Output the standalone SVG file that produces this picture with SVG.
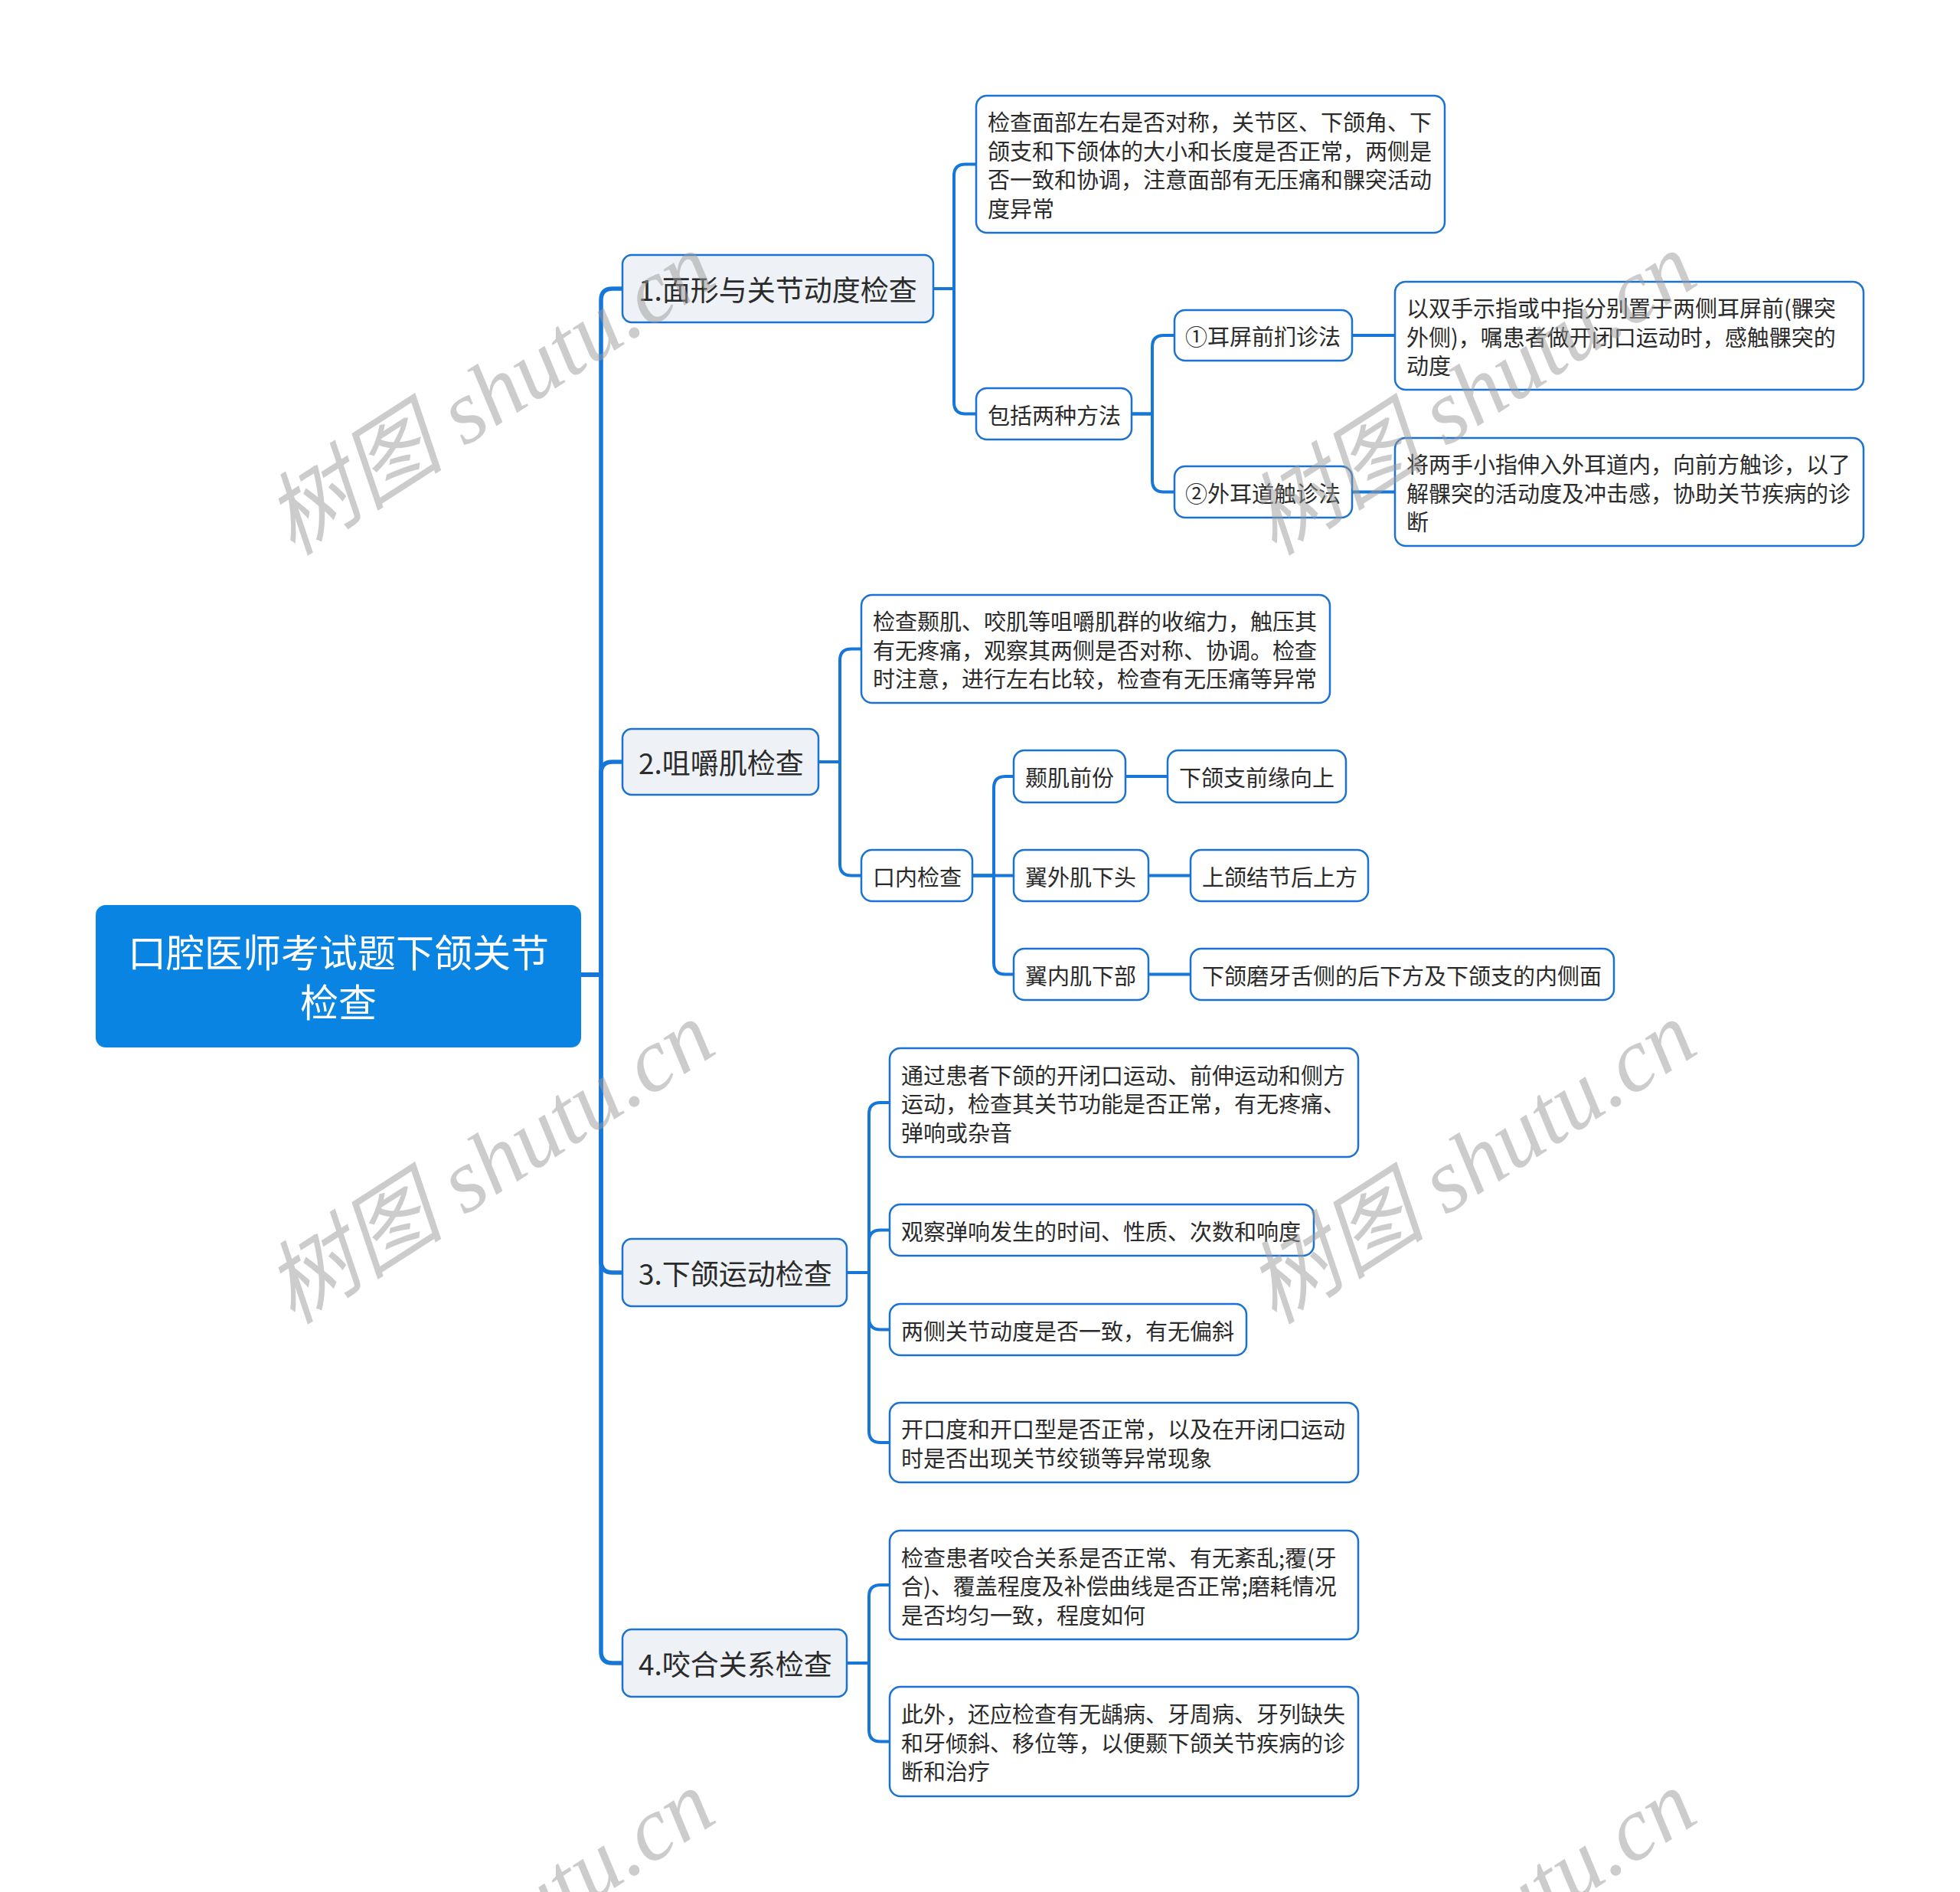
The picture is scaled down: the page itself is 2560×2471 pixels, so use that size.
<svg xmlns="http://www.w3.org/2000/svg" width="2560" height="2471" viewBox="0 0 2560 2471">
<style>
.bg{fill:#ffffff}
.root rect{fill:#0984e3}
.root text{fill:#ffffff;font-size:50px}
.l1 rect{fill:#eef2f6;stroke:#1b72d0;stroke-width:2.5}
.l1 text{fill:#2b2b2b;font-size:37px}
.ln rect{fill:#ffffff;stroke:#1b72d0;stroke-width:2.5}
.ln text{fill:#2b2b2b;font-size:29px}
text{font-family:"Noto Sans CJK SC","Noto Sans",sans-serif;dominant-baseline:central}
.c{fill:none;stroke:#1677d9;stroke-width:4;stroke-linejoin:round}
.cm{fill:none;stroke:#1677d9;stroke-width:5.5;stroke-linejoin:round}
.wm{font-family:"Liberation Serif","Noto Sans CJK SC",serif;font-style:italic;font-size:118px;fill:#9a9a9a;opacity:0.5;text-anchor:middle}
</style>
<rect class="bg" x="0" y="0" width="2560" height="2471"/>

<g id="connectors">
  <path class="cm" d="M759,1273 H785 V392 Q785,377 800,377 H813"/>
  <path class="cm" d="M759,1273 H785 V1010 Q785,995 800,995 H813"/>
  <path class="cm" d="M759,1273 H785 V1647 Q785,1662 800,1662 H813"/>
  <path class="cm" d="M759,1273 H785 V2157 Q785,2172 800,2172 H813"/>

  <path class="c" d="M1219,377 H1246 V229.5 Q1246,214.5 1261,214.5 H1275"/>
  <path class="c" d="M1219,377 H1246 V525.5 Q1246,540.5 1261,540.5 H1275"/>

  <path class="c" d="M1478,540.5 H1505 V453 Q1505,438 1520,438 H1534"/>
  <path class="c" d="M1478,540.5 H1505 V627.5 Q1505,642.5 1520,642.5 H1534"/>
  <path class="c" d="M1766,438 H1822"/>
  <path class="c" d="M1766,642.5 H1822"/>

  <path class="c" d="M1069,995 H1097 V862.5 Q1097,847.5 1112,847.5 H1125"/>
  <path class="c" d="M1069,995 H1097 V1128.5 Q1097,1143.5 1112,1143.5 H1125"/>

  <path class="c" d="M1270,1143.5 H1298 V1029 Q1298,1014 1313,1014 H1324"/>
  <path class="c" d="M1270,1143.5 H1324"/>
  <path class="c" d="M1270,1143.5 H1298 V1257.5 Q1298,1272.5 1313,1272.5 H1324"/>
  <path class="c" d="M1470,1014 H1525"/>
  <path class="c" d="M1500,1143.5 H1555"/>
  <path class="c" d="M1500,1272.5 H1555"/>

  <path class="c" d="M1106,1662 H1135 V1455 Q1135,1440 1150,1440 H1162"/>
  <path class="c" d="M1106,1662 H1135 V1621.5 Q1135,1606.5 1150,1606.5 H1162"/>
  <path class="c" d="M1106,1662 H1135 V1721.5 Q1135,1736.5 1150,1736.5 H1162"/>
  <path class="c" d="M1106,1662 H1135 V1869 Q1135,1884 1150,1884 H1162"/>

  <path class="c" d="M1106,2172 H1135 V2085 Q1135,2070 1150,2070 H1162"/>
  <path class="c" d="M1106,2172 H1135 V2259.5 Q1135,2274.5 1150,2274.5 H1162"/>
</g>

<g id="root" class="root">
  <rect x="125" y="1182" width="634" height="186" rx="13"/>
  <text x="442" y="1241" text-anchor="middle">口腔医师考试题下颌关节</text>
  <text x="442" y="1306" text-anchor="middle">检查</text>
</g>

<g id="b1" class="l1">
  <rect x="813" y="333" width="406" height="88" rx="12"/>
  <text x="834" y="377">1.面形与关节动度检查</text>
</g>
<g id="b2" class="l1">
  <rect x="813" y="952" width="256" height="86" rx="12"/>
  <text x="834" y="995">2.咀嚼肌检查</text>
</g>
<g id="b3" class="l1">
  <rect x="813" y="1618" width="293" height="88" rx="12"/>
  <text x="834" y="1662">3.下颌运动检查</text>
</g>
<g id="b4" class="l1">
  <rect x="813" y="2128" width="293" height="88" rx="12"/>
  <text x="834" y="2172">4.咬合关系检查</text>
</g>

<g id="b1a" class="ln">
  <rect x="1275" y="125" width="612" height="179" rx="14"/>
  <text x="1290" y="158.25">检查面部左右是否对称，关节区、下颌角、下</text>
  <text x="1290" y="195.75">颌支和下颌体的大小和长度是否正常，两侧是</text>
  <text x="1290" y="233.25">否一致和协调，注意面部有无压痛和髁突活动</text>
  <text x="1290" y="270.75">度异常</text>
</g>
<g id="b1b" class="ln">
  <rect x="1275" y="507" width="203" height="67" rx="14"/>
  <text x="1290" y="540.5">包括两种方法</text>
</g>
<g id="b1b1" class="ln">
  <rect x="1534" y="405" width="232" height="66" rx="14"/>
  <text x="1548" y="438">①耳屏前扪诊法</text>
</g>
<g id="b1b2" class="ln">
  <rect x="1534" y="609" width="232" height="67" rx="14"/>
  <text x="1548" y="642.5">②外耳道触诊法</text>
</g>
<g id="b1b1a" class="ln">
  <rect x="1822" y="368" width="612" height="141" rx="14"/>
  <text x="1837" y="401">以双手示指或中指分别置于两侧耳屏前(髁突</text>
  <text x="1837" y="438.5">外侧)，嘱患者做开闭口运动时，感触髁突的</text>
  <text x="1837" y="476">动度</text>
</g>
<g id="b1b2a" class="ln">
  <rect x="1822" y="572" width="612" height="141" rx="14"/>
  <text x="1837" y="605">将两手小指伸入外耳道内，向前方触诊，以了</text>
  <text x="1837" y="642.5">解髁突的活动度及冲击感，协助关节疾病的诊</text>
  <text x="1837" y="680">断</text>
</g>

<g id="b2a" class="ln">
  <rect x="1125" y="777" width="612" height="141" rx="14"/>
  <text x="1140" y="810">检查颞肌、咬肌等咀嚼肌群的收缩力，触压其</text>
  <text x="1140" y="847.5">有无疼痛，观察其两侧是否对称、协调。检查</text>
  <text x="1140" y="885">时注意，进行左右比较，检查有无压痛等异常</text>
</g>
<g id="b2b" class="ln">
  <rect x="1125" y="1110" width="145" height="67" rx="14"/>
  <text x="1140" y="1143.5">口内检查</text>
</g>
<g id="b2b1" class="ln">
  <rect x="1324" y="980" width="146" height="68" rx="14"/>
  <text x="1339" y="1014">颞肌前份</text>
</g>
<g id="b2b2" class="ln">
  <rect x="1324" y="1110" width="176" height="67" rx="14"/>
  <text x="1339" y="1143.5">翼外肌下头</text>
</g>
<g id="b2b3" class="ln">
  <rect x="1324" y="1239" width="176" height="67" rx="14"/>
  <text x="1339" y="1272.5">翼内肌下部</text>
</g>
<g id="b2b1a" class="ln">
  <rect x="1525" y="980" width="233" height="68" rx="14"/>
  <text x="1540" y="1014">下颌支前缘向上</text>
</g>
<g id="b2b2a" class="ln">
  <rect x="1555" y="1110" width="232" height="67" rx="14"/>
  <text x="1570" y="1143.5">上颌结节后上方</text>
</g>
<g id="b2b3a" class="ln">
  <rect x="1555" y="1239" width="553" height="67" rx="14"/>
  <text x="1570" y="1272.5">下颌磨牙舌侧的后下方及下颌支的内侧面</text>
</g>

<g id="b3a" class="ln">
  <rect x="1162" y="1369" width="612" height="142" rx="14"/>
  <text x="1177" y="1402.5">通过患者下颌的开闭口运动、前伸运动和侧方</text>
  <text x="1177" y="1440">运动，检查其关节功能是否正常，有无疼痛、</text>
  <text x="1177" y="1477.5">弹响或杂音</text>
</g>
<g id="b3b" class="ln">
  <rect x="1162" y="1573" width="554" height="67" rx="14"/>
  <text x="1177" y="1606.5">观察弹响发生的时间、性质、次数和响度</text>
</g>
<g id="b3c" class="ln">
  <rect x="1162" y="1703" width="466" height="67" rx="14"/>
  <text x="1177" y="1736.5">两侧关节动度是否一致，有无偏斜</text>
</g>
<g id="b3d" class="ln">
  <rect x="1162" y="1832" width="612" height="104" rx="14"/>
  <text x="1177" y="1865.25">开口度和开口型是否正常，以及在开闭口运动</text>
  <text x="1177" y="1902.75">时是否出现关节绞锁等异常现象</text>
</g>

<g id="b4a" class="ln">
  <rect x="1162" y="1999" width="612" height="142" rx="14"/>
  <text x="1177" y="2032.5">检查患者咬合关系是否正常、有无紊乱;覆(牙</text>
  <text x="1177" y="2070">合)、覆盖程度及补偿曲线是否正常;磨耗情况</text>
  <text x="1177" y="2107.5">是否均匀一致，程度如何</text>
</g>
<g id="b4b" class="ln">
  <rect x="1162" y="2203" width="612" height="143" rx="14"/>
  <text x="1177" y="2237">此外，还应检查有无龋病、牙周病、牙列缺失</text>
  <text x="1177" y="2274.5">和牙倾斜、移位等，以便颞下颌关节疾病的诊</text>
  <text x="1177" y="2312">断和治疗</text>
</g>

<g id="watermarks">
  <text class="wm" transform="translate(640,515) rotate(-32.7)">树图 shutu.cn</text>
  <text class="wm" transform="translate(1922,515) rotate(-32.7)">树图 shutu.cn</text>
  <text class="wm" transform="translate(640,1519) rotate(-32.7)">树图 shutu.cn</text>
  <text class="wm" transform="translate(1922,1519) rotate(-32.7)">树图 shutu.cn</text>
  <text class="wm" transform="translate(640,2523) rotate(-32.7)">树图 shutu.cn</text>
  <text class="wm" transform="translate(1922,2523) rotate(-32.7)">树图 shutu.cn</text>
</g>
</svg>
